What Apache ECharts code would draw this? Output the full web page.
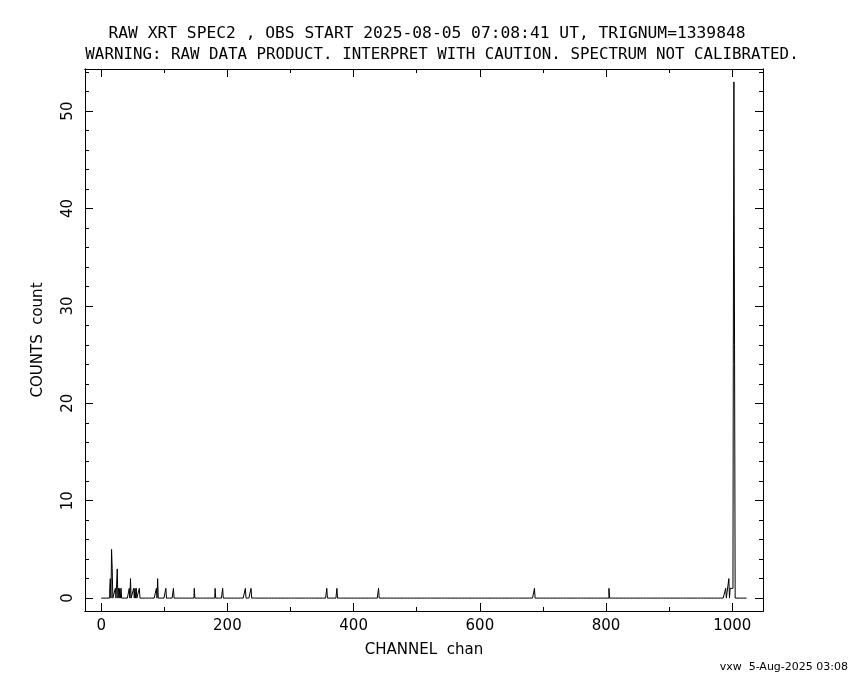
<!DOCTYPE html>
<html><head><meta charset="utf-8">
<script src="https://cdn.jsdelivr.net/npm/echarts@6/dist/echarts.min.js"></script>
<style>html,body{margin:0;padding:0;background:#fff}#c{width:850px;height:680px}</style>
</head><body><div id="c"></div>
<script>
// ---- text ----
const titleLine1 = 'RAW XRT SPEC2 , OBS START 2025-08-05 07:08:41 UT, TRIGNUM=1339848';
const titleLine2 = 'WARNING: RAW DATA PRODUCT. INTERPRET WITH CAUTION. SPECTRUM NOT CALIBRATED.';
const xAxisTitle = 'CHANNEL  chan';
const yAxisTitle = 'COUNTS  count';
const footerText = 'vxw  5-Aug-2025 03:08';

// ---- data (channels 0..1023, zero except listed channels) ----
const channelCount = 1024;
const spikeChannels = [14, 15, 17, 18, 23, 26, 28, 30, 32, 45, 47, 52, 54, 56, 61, 88, 90, 103, 115, 148, 181, 193, 229, 238, 358, 374, 440, 687, 805, 990, 995, 997, 998, 999, 1000, 1001, 1002, 1003, 1004];
const spikeCounts   = [ 1,  2,  5,  3,  1,  3,  1,  1,  1,  1,  2,  1,  1,  1,  1,  1,  2,   1,   1,   1,   1,   1,   1,   1,   1,   1,   1,   1,   1,   1,   2,   1,   1,   1,    1,    1,   24,   53,   26];

// ---- axes ----
const xRange = [-25.6, 1048.6];
const yRange = [-1.325, 54.325];
const xMajorTicks = [0, 200, 400, 600, 800, 1000];
const xMinorTicks = [100, 300, 500, 700, 900];
const yMajorTicks = [0, 10, 20, 30, 40, 50];
const yMinorTicks = [2, 4, 6, 8, 12, 14, 16, 18, 22, 24, 26, 28, 32, 34, 36, 38, 42, 44, 46, 48, 52, 54];

const counts = new Array(channelCount).fill(0);
spikeChannels.forEach((c, i) => { counts[c] = spikeCounts[i]; });
const seriesData = counts.map((v, c) => [c, v]);

const FONT = 'DejaVu Sans';
const TFONT = 'DejaVu Sans Mono';
const gridRect = { left: 85, right: 87, top: 69, bottom: 69 };

function xAx(gridIndex, position, ticks, len, labels) {
  return {
    type: 'value', gridIndex, position, min: xRange[0], max: xRange[1],
    axisLine: { show: true, onZero: false, lineStyle: { color: '#000', width: 1 } },
    axisTick: { show: true, inside: true, length: len, customValues: ticks, lineStyle: { color: '#000', width: 1 } },
    axisLabel: labels ? { show: true, customValues: ticks, formatter: v => String(v), color: '#000', fontFamily: FONT, fontSize: 15, margin: 8 } : { show: false },
    splitLine: { show: false },
    name: labels ? xAxisTitle : '', nameLocation: 'middle', nameGap: 32,
    nameTextStyle: { color: '#000', fontFamily: FONT, fontSize: 15 }
  };
}
function yAx(gridIndex, position, ticks, len, labels) {
  return {
    type: 'value', gridIndex, position, min: yRange[0], max: yRange[1],
    axisLine: { show: true, onZero: false, lineStyle: { color: '#000', width: 1 } },
    axisTick: { show: true, inside: true, length: len, customValues: ticks, lineStyle: { color: '#000', width: 1 } },
    axisLabel: labels ? { show: true, customValues: ticks, formatter: v => String(v), rotate: 90, color: '#000', fontFamily: FONT, fontSize: 15, margin: 9 } : { show: false },
    splitLine: { show: false },
    name: labels ? yAxisTitle : '', nameLocation: 'middle', nameGap: 39, nameRotate: 90,
    nameTextStyle: { color: '#000', fontFamily: FONT, fontSize: 15 }
  };
}

const chart = echarts.init(document.getElementById('c'), null, { renderer: 'canvas' });
chart.setOption({
  animation: false,
  backgroundColor: '#fff',
  title: [
    { text: titleLine1, left: 422, top: 21, textAlign: 'center', textStyle: { color: '#000', fontFamily: TFONT, fontSize: 16.3, fontWeight: 'normal' } },
    { text: titleLine2, left: 437, top: 42, textAlign: 'center', textStyle: { color: '#000', fontFamily: TFONT, fontSize: 15.8, fontWeight: 'normal' } }
  ],
  grid: [Object.assign({}, gridRect), Object.assign({}, gridRect)],
  xAxis: [
    xAx(0, 'bottom', xMajorTicks, 8, true),
    xAx(0, 'top', xMajorTicks, 8, false),
    xAx(1, 'bottom', xMinorTicks, 4, false),
    xAx(1, 'top', xMinorTicks, 4, false)
  ],
  yAxis: [
    yAx(0, 'left', yMajorTicks, 8, true),
    yAx(0, 'right', yMajorTicks, 8, false),
    yAx(1, 'left', yMinorTicks, 4, false),
    yAx(1, 'right', yMinorTicks, 4, false)
  ],
  graphic: [
    { type: 'text', right: 2, top: 662, style: { text: footerText, fill: '#000', font: '11px ' + FONT } }
  ],
  series: [{
    type: 'line', xAxisIndex: 0, yAxisIndex: 0, data: seriesData, step: 'middle',
    showSymbol: false, symbol: 'none', lineStyle: { color: '#000', width: 1 }, silent: true
  }]
});
</script></body></html>
